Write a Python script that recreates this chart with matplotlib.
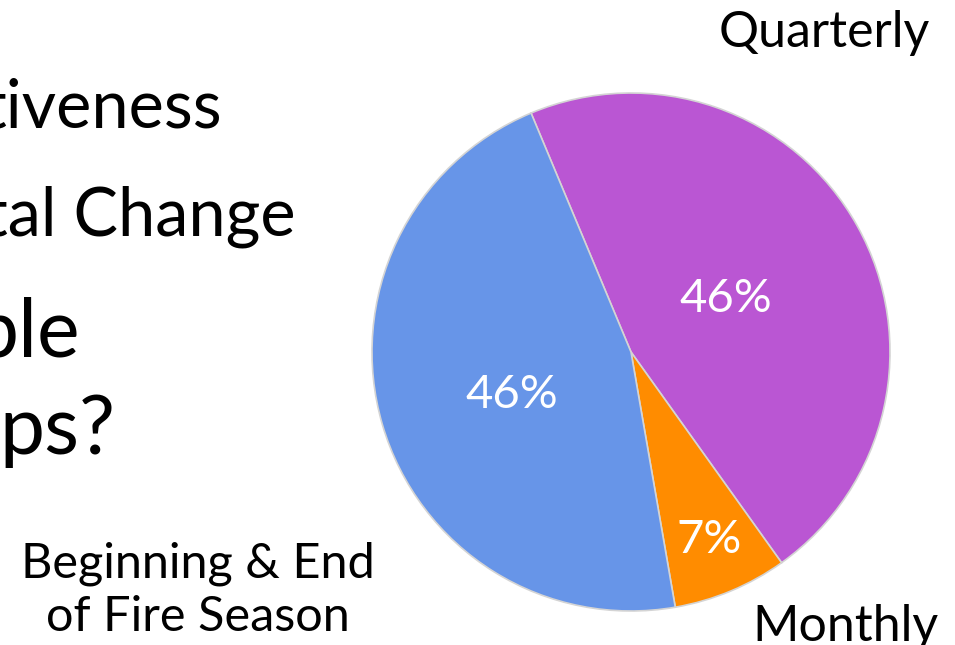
import matplotlib
matplotlib.use('Agg')
import matplotlib.pyplot as plt
import numpy as np

# survey answers: how often should the maps be updated
labels = ['Quarterly', 'Monthly', 'Beginning & End\nof Fire Season']
counts = [13, 2, 13]
pct_text = ['46%', '7%', '46%']
colors = ['#BA56D3', '#FF8C00', '#6795E8']

# leftover slide text (cut off on the left)
slide_lines = ['tiveness', 'tal Change', 'ple', 'ps?']

W, H = 955, 645
plt.rcParams['font.family'] = ['Lato', 'DejaVu Sans']

fig = plt.figure(figsize=(W / 100, H / 100), dpi=100)
fig.patch.set_facecolor('white')

# pie axes in pixel box
x0, y0, x1, y1 = 372, 92, 890, 612
ax = fig.add_axes([x0 / W, 1 - y1 / H, (x1 - x0) / W, (y1 - y0) / H])
wedges, _ = ax.pie(counts, colors=colors, startangle=112.7, counterclock=False,
                   wedgeprops=dict(edgecolor='#D4D4D4', linewidth=1.2))
ax.set_xlim(-1.0, 1.0)
ax.set_ylim(-1.0, 1.0)
ax.set_aspect('equal')
ax.axis('off')

# percent labels, placed along each wedge's mid angle
pct_dist = [0.42, 0.785, 0.49]
pct_shift = [0, 0, 3.5]
for w, t, d, s in zip(wedges, pct_text, pct_dist, pct_shift):
    mid = np.deg2rad((w.theta1 + w.theta2) / 2 + s)
    ax.text(d * np.cos(mid), d * np.sin(mid), t, color='white', fontsize=34,
            ha='center', va='center')

# category labels
fig.text(824 / W, 1 - 33 / H, labels[0], fontsize=36, ha='center', va='center')
fig.text(845 / W, 1 - 627 / H, labels[1], fontsize=36, ha='center', va='center')
fig.text(198 / W, 1 - 590 / H, labels[2], fontsize=35, ha='center', va='center',
         linespacing=1.25)

# slide text fragments
fig.text(222 / W, 1 - 108 / H, slide_lines[0], fontsize=48, ha='right', va='center')
fig.text(296 / W, 1 - 217 / H, slide_lines[1], fontsize=48, ha='right', va='center')
fig.text(80 / W, 1 - 334 / H, slide_lines[2], fontsize=58, ha='right', va='center')
fig.text(115 / W, 1 - 431 / H, slide_lines[3], fontsize=58, ha='right', va='center')

fig.savefig('out.png', dpi=100, facecolor='white')
